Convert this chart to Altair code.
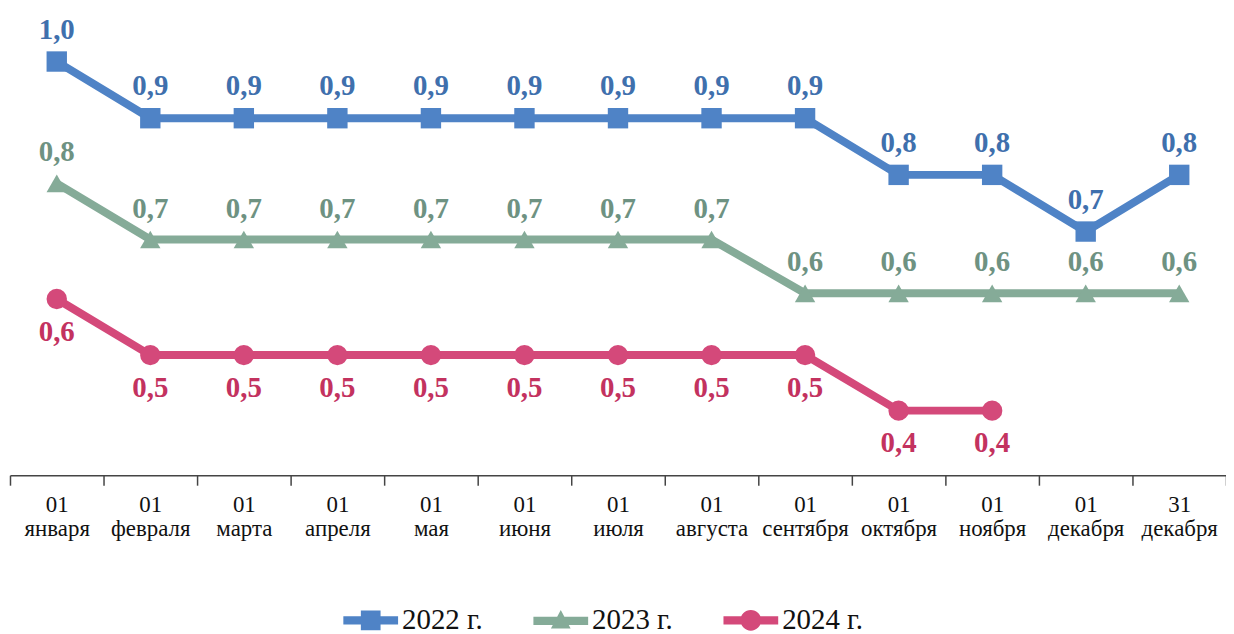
import altair as alt
import pandas as pd

days = ["01"] * 12 + ["31"]
months = ["января", "февраля", "марта", "апреля", "мая", "июня", "июля",
          "августа", "сентября", "октября", "ноября", "декабря", "декабря"]
categories = [f"{d} {m}" for d, m in zip(days, months)]

series = ["2022 г.", "2023 г.", "2024 г."]
values_2022 = [1.0, 0.9, 0.9, 0.9, 0.9, 0.9, 0.9, 0.9, 0.9, 0.8, 0.8, 0.7, 0.8]
values_2023 = [0.785, 0.686, 0.686, 0.686, 0.686, 0.686, 0.686, 0.686,
               0.591, 0.591, 0.591, 0.591, 0.591]
values_2024 = [0.581, 0.482, 0.482, 0.482, 0.482, 0.482, 0.482, 0.482, 0.482, 0.384, 0.384]

line_colors = ["#4f83c6", "#85ab98", "#d4497a"]
text_colors = ["#3f70ad", "#6e9282", "#c3325f"]
point_shapes = ["square", "triangle-up", "circle"]
legend_shapes = [
    "M-1,-0.15H1V0.15H-1Z M-0.36,-0.36H0.36V0.36H-0.36Z",
    "M-1,-0.13H1V0.17H-1Z M-0.36,0.3L0,-0.38L0.36,0.3Z",
    "M-1,-0.15H1V0.15H-1Z M0.38,0A0.38,0.38 0 1,1 -0.38,0A0.38,0.38 0 1,1 0.38,0Z",
]

SERIF = "Liberation Serif, Times New Roman, DejaVu Serif, serif"

rows = []
for s, vals in zip(series, [values_2022, values_2023, values_2024]):
    for c, v in zip(categories, vals):
        rows.append({"cat": c, "series": s, "value": v})
df = pd.DataFrame(rows)

W, H = 1222, 467

x_enc = alt.X(
    "cat:N", sort=categories,
    scale=alt.Scale(domain=categories, paddingInner=0, paddingOuter=0),
    axis=alt.Axis(
        title=None, labelExpr="datum.value ? split(datum.value, ' ') : ''", labelAngle=0,
        labelFont=SERIF, labelFontSize=23, labelColor="#111111",
        labelLineHeight=25, labelPadding=8, labelLimit=300,
        tickSize=10, tickWidth=1.5, tickColor="#444444", tickBand="extent",
        domainColor="#444444", domainWidth=1.5, grid=False,
    ),
)
y_enc = alt.Y("value:Q", scale=alt.Scale(domain=[0.27, 1.09], nice=False, zero=False), axis=None)
color_enc = alt.Color("series:N", scale=alt.Scale(domain=series, range=line_colors), legend=None)

base = alt.Chart(df).encode(x=x_enc, y=y_enc)

lines = base.mark_line(strokeWidth=8, strokeJoin="miter").encode(color=color_enc)

points = base.mark_point(filled=True, opacity=1, size=420).encode(
    color=color_enc,
    shape=alt.Shape("series:N", scale=alt.Scale(domain=series, range=point_shapes), legend=None),
)

label_expr = "replace(format(datum.value, '.1f'), '.', ',')"
dys = [-32, -31, 33]
texts = []
for s, tc, dy in zip(series, text_colors, dys):
    texts.append(
        base.transform_filter(alt.datum.series == s)
        .transform_calculate(lbl=label_expr)
        .mark_text(font=SERIF, fontWeight="bold", fontSize=29, dy=dy,
                   baseline="middle", align="center")
        .encode(text="lbl:N", color=alt.value(tc))
    )

legend_layer = (
    alt.Chart(df)
    .transform_filter("false")
    .transform_calculate(lser="datum.series")
    .mark_point(filled=True, opacity=1)
    .encode(
        x=x_enc, y=y_enc,
        color=alt.Color("lser:N", scale=alt.Scale(domain=series, range=line_colors),
                        legend=alt.Legend(title=None)),
        shape=alt.Shape("lser:N", scale=alt.Scale(domain=series, range=legend_shapes),
                        legend=alt.Legend(title=None)),
    )
)

chart = (
    alt.layer(lines, points, *texts, legend_layer)
    .resolve_scale(color="independent", shape="independent")
    .properties(width=W, height=H, autosize="none",
                padding={"left": 2, "top": 1, "right": 0, "bottom": 158})
    .configure_view(stroke=None)
    .configure_legend(
        orient="none", legendX=335, legendY=585, direction="horizontal",
        symbolSize=3025, symbolStrokeWidth=0, symbolOpacity=1,
        labelFont=SERIF, labelFontSize=29, labelColor="#111111",
        labelOffset=4, columnPadding=50, labelLimit=300,
    )
)

chart.save("out.html", embed_options={"renderer": "svg", "actions": False})
